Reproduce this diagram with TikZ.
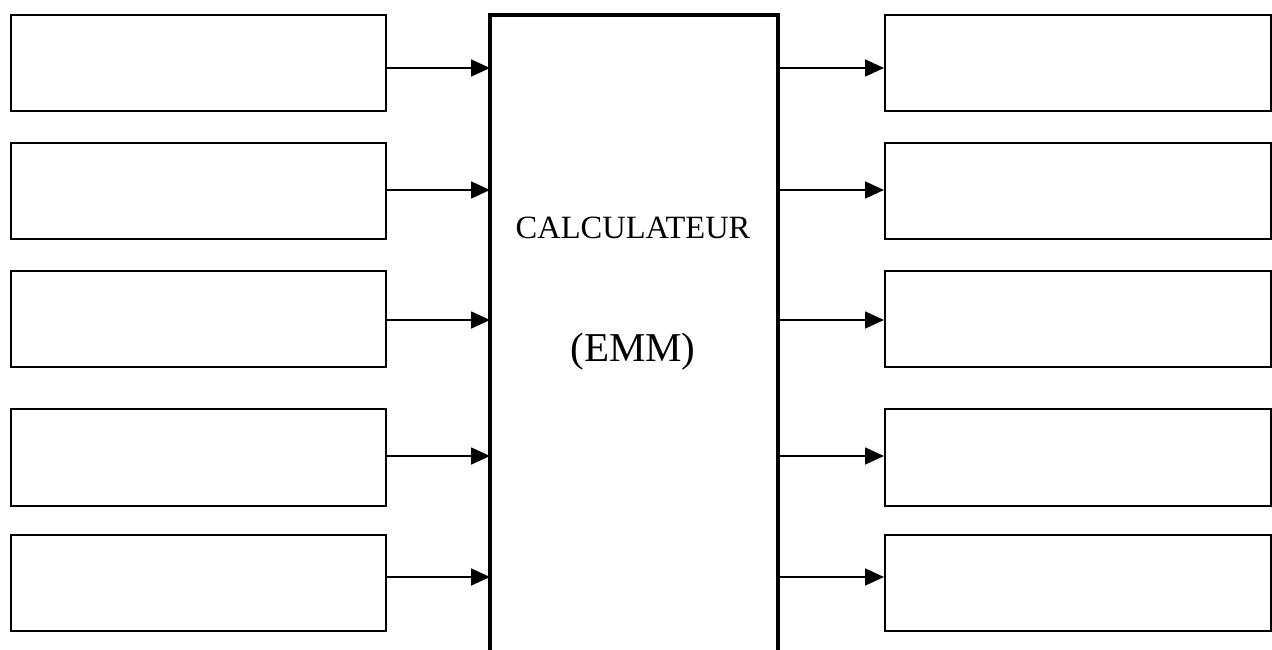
\documentclass[tikz,border=0pt]{standalone}
\usepackage{fontspec}
\setmainfont{Liberation Serif}
\usetikzlibrary{arrows.meta}
\begin{document}
\begin{tikzpicture}[x=1pt,y=-1pt,
  sidebox/.style={draw, line width=1.7pt, inner sep=0pt, anchor=north west, minimum height=96pt},
  lbox/.style={sidebox, minimum width=375pt},
  rbox/.style={sidebox, minimum width=386pt},
  arr/.style={line width=1.7pt, -{Triangle[length=19pt,width=17pt]}},
  mainline/.style={line width=4pt},
  lbl/.style={inner sep=0pt, anchor=base}
]
\useasboundingbox (0,0) rectangle (1272,650);
% left boxes
\node[lbox] (L1) at (10,14) {};
\node[lbox] (L2) at (10,142) {};
\node[lbox] (L3) at (10,270) {};
\node[lbox, minimum height=97pt] (L4) at (10,408) {};
\node[lbox] (L5) at (10,534) {};
% right boxes
\node[rbox] (R1) at (884,14) {};
\node[rbox] (R2) at (884,142) {};
\node[rbox] (R3) at (884,270) {};
\node[rbox, minimum height=97pt] (R4) at (884,408) {};
\node[rbox] (R5) at (884,534) {};
% central box
\node[inner sep=0pt, minimum width=288pt, minimum height=637pt, anchor=north west] (C) at (490,15) {};
\draw[mainline] (C.south west) -- (C.north west) -- (C.north east) -- (C.south east);
\node[lbl, font=\fontsize{32.5}{38}\selectfont] (t1) at (633,238) {CALCULATEUR};
\node[lbl, font=\fontsize{41}{46}\selectfont] (t2) at (633,361) {(EMM)};
% row levels
\coordinate (y1) at (0,68);
\coordinate (y2) at (0,190);
\coordinate (y3) at (0,320);
\coordinate (y4) at (0,456);
\coordinate (y5) at (0,577);
\foreach \i in {1,...,5}{
  \draw[arr] (L\i.east |- y\i) -- (C.west |- y\i);
  \draw[arr] (C.east |- y\i) -- (R\i.west |- y\i);
}
\end{tikzpicture}
\end{document}
